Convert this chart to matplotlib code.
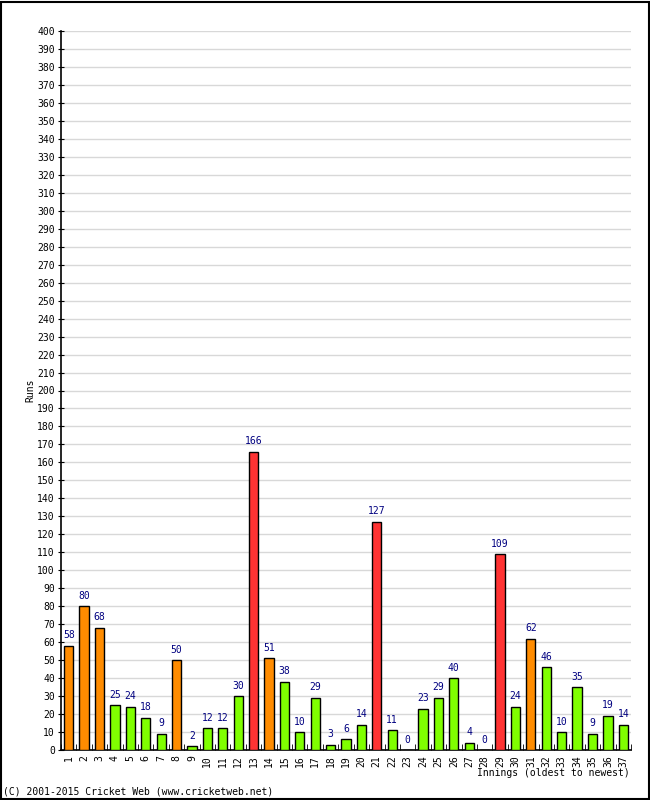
import numpy as np
import matplotlib.pyplot as plt

innings = [str(i) for i in range(1, 38)]
runs = [58, 80, 68, 25, 24, 18, 9, 50, 2, 12, 12, 30, 166, 51, 38, 10, 29, 3, 6, 14,
        127, 11, 0, 23, 29, 40, 4, 0, 109, 24, 62, 46, 10, 35, 9, 19, 14]
y_ticks = list(range(0, 401, 10))

def bar_colour(r):
    if r >= 100:
        return '#ff3333'
    if r >= 50:
        return '#ff8c00'
    return '#80ff00'

plt.rcParams['font.family'] = ['DejaVu Sans Mono']
fig = plt.figure(figsize=(6.5, 8), dpi=100)
ax = fig.add_axes([61/650, 50/800, 570/650, 719/800])

x = np.arange(len(runs))
ax.bar(x, runs, width=0.6, color=[bar_colour(r) for r in runs],
       edgecolor='black', linewidth=1, zorder=3)
for xi, r in zip(x, runs):
    ax.text(xi, r + 3, str(r), ha='center', va='bottom', fontsize=7, color='#000080')

ax.set_xlim(-0.5, len(runs) - 0.5)
ax.set_ylim(0, 400)
ax.set_yticks(y_ticks)
ax.set_yticklabels([str(t) for t in y_ticks], fontsize=7)
ax.set_xticks(x)
ax.set_xticklabels(innings, rotation=90, fontsize=7)
ax.set_xticks(np.arange(len(runs) + 1) - 0.5, minor=True)
ax.tick_params(axis='x', which='major', length=0, pad=4)
ax.tick_params(axis='x', which='minor', length=4, direction='in')
ax.tick_params(axis='y', length=5, direction='inout', pad=2)
ax.grid(axis='y', color='#d8d8d8', linewidth=1, zorder=0)
ax.spines['top'].set_visible(False)
ax.spines['right'].set_visible(False)
ax.spines['left'].set_linewidth(1.2)
ax.spines['bottom'].set_linewidth(1.2)

fig.text(30/650, 1 - 390/800, 'Runs', rotation=90, fontsize=7, ha='center', va='center')
fig.text(630/650, 1 - 773/800, 'Innings (oldest to newest)', fontsize=7, ha='right', va='center')
fig.text(3/650, 1 - 792/800, '(C) 2001-2015 Cricket Web (www.cricketweb.net)', fontsize=7,
         ha='left', va='center')
fig.patches.append(plt.Rectangle((0.001, 0.001), 0.997, 0.997, transform=fig.transFigure,
                                 fill=False, edgecolor='black', linewidth=1.5))

fig.savefig('out.png', dpi=100)
